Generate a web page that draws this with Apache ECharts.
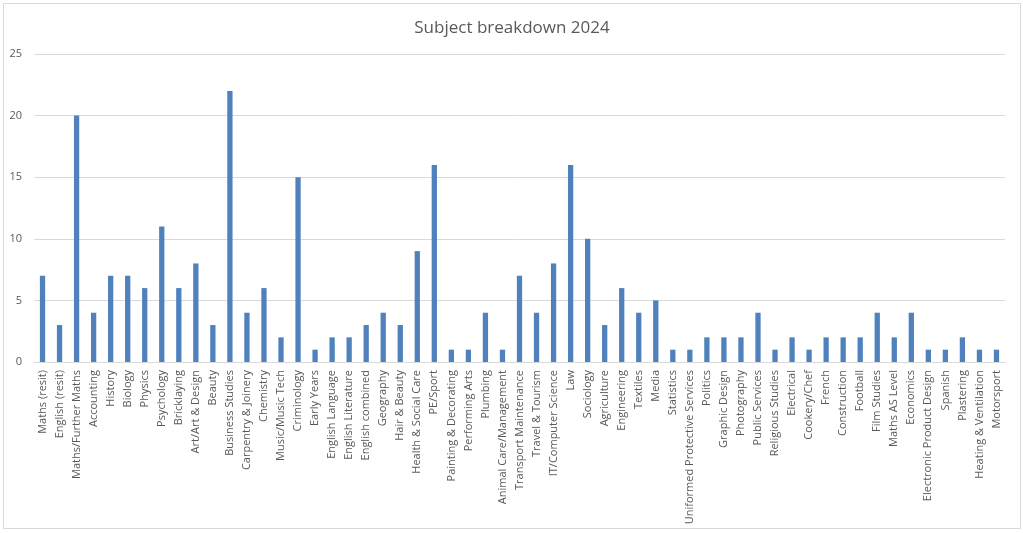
<!DOCTYPE html>
<html>
<head>
<meta charset="utf-8">
<script src="https://cdn.jsdelivr.net/npm/echarts@6/dist/echarts.min.js"></script>
<style>
html, body { margin: 0; padding: 0; background: #fff; }
#chart { position: absolute; left: 3px; top: 3px; width: 1016px; height: 524px; border: 1px solid #d9d9d9; }
</style>
</head>
<body>
<div id="chart"></div>
<script>
var subjects = ['Maths (resit)', 'English (resit)', 'Maths/Further Maths', 'Accounting', 'History', 'Biology', 'Physics',
    'Psychology', 'Bricklaying', 'Art/Art & Design', 'Beauty', 'Business Studies', 'Carpentry & Joinery', 'Chemistry',
    'Music/Music Tech', 'Criminology', 'Early Years', 'English Language', 'English Literature', 'English combined',
    'Geography', 'Hair & Beauty', 'Health & Social Care', 'PE/Sport', 'Painting & Decorating', 'Performing Arts',
    'Plumbing', 'Animal Care/Management', 'Transport Maintenance', 'Travel & Tourism', 'IT/Computer Science', 'Law',
    'Sociology', 'Agriculture', 'Engineering', 'Textiles', 'Media', 'Statistics', 'Uniformed Protective Services',
    'Politics', 'Graphic Design', 'Photography', 'Public Services', 'Religious Studies', 'Electrical', 'Cookery/Chef',
    'French', 'Construction', 'Football', 'Film Studies', 'Maths AS Level', 'Economics', 'Electronic Product Design',
    'Spanish', 'Plastering', 'Heating & Ventilation', 'Motorsport'];
var counts = [7, 3, 20, 4, 7, 7, 6,
    11, 6, 8, 3, 22, 4, 6,
    2, 15, 1, 2, 2, 3,
    4, 3, 9, 16, 1, 1,
    4, 1, 7, 4, 8, 16,
    10, 3, 6, 4, 5, 1, 1,
    2, 2, 2, 4, 1, 2, 1,
    2, 2, 2, 4, 2, 4, 1,
    1, 2, 1, 1];

var chart = echarts.init(document.getElementById('chart'));
chart.setOption({
    animation: false,
    textStyle: { fontFamily: 'Open Sans' },
    title: {
        text: 'Subject breakdown 2024',
        left: 'center',
        top: 11,
        textStyle: { fontSize: 17, fontWeight: 'normal', color: '#595959', fontFamily: 'Open Sans' }
    },
    grid: { left: 30, right: 15, top: 50, bottom: 166 },
    xAxis: {
        type: 'category',
        data: subjects,
        axisTick: { show: false },
        axisLine: { lineStyle: { color: '#d9d9d9' } },
        axisLabel: { rotate: 90, interval: 0, fontSize: 11, color: '#595959', margin: 8 }
    },
    yAxis: {
        type: 'value',
        min: 0,
        max: 25,
        interval: 5,
        axisLine: { show: false },
        axisTick: { show: false },
        axisLabel: { fontSize: 11, color: '#595959', margin: 12 },
        splitLine: { lineStyle: { color: '#d9d9d9' } }
    },
    series: [{
        type: 'bar',
        data: counts,
        barCategoryGap: '69%',
        itemStyle: { color: '#4f81bd' }
    }]
});
</script>
</body>
</html>
